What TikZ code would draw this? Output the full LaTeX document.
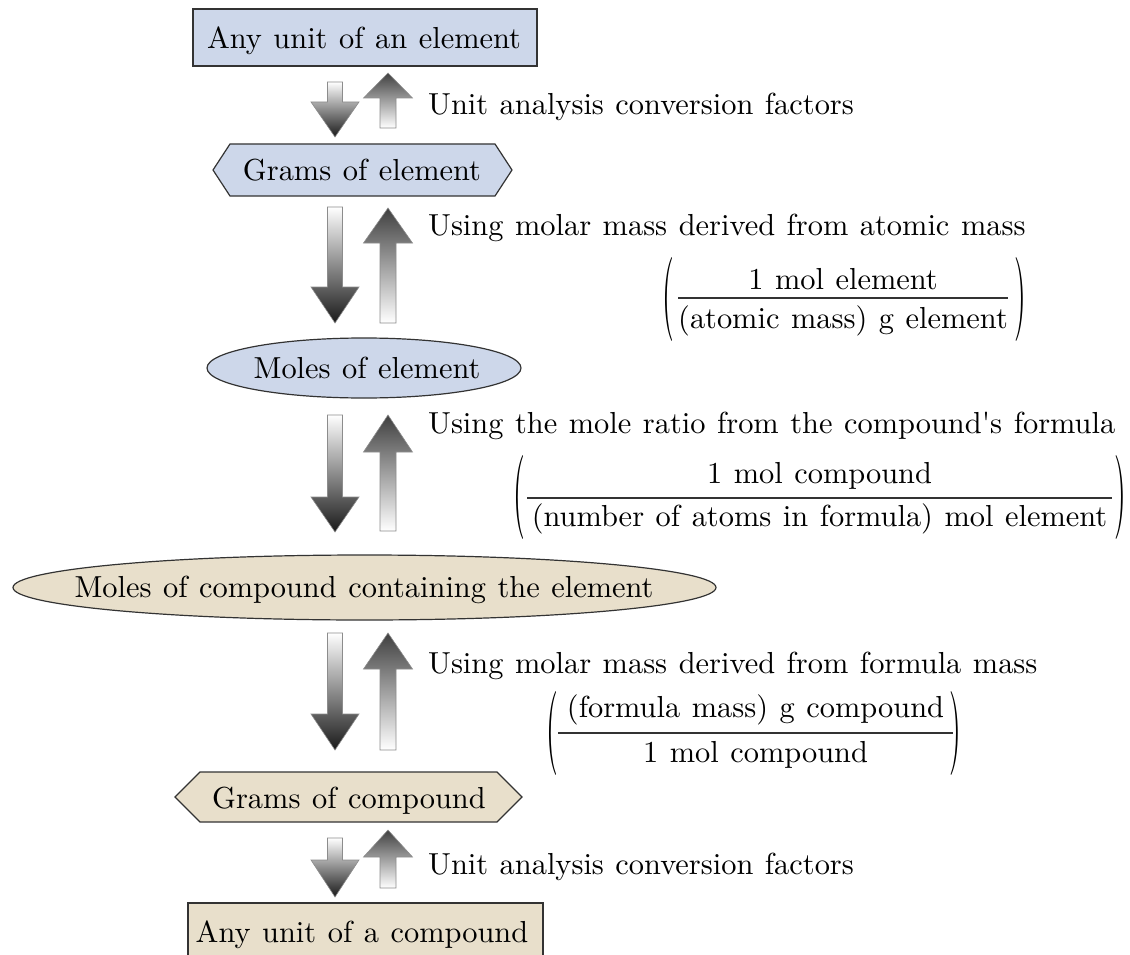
\documentclass[tikz,border=0pt]{standalone}
\usepackage{graphicx}
\usetikzlibrary{shapes.geometric}
\definecolor{boxblue}{HTML}{CDD7EA}
\definecolor{boxtan}{HTML}{E8DFCB}
\definecolor{edge}{HTML}{333333}
\newcommand\T[1]{\scalebox{3.04}{\fontsize{10}{12}\selectfont\spaceskip=0.38em plus 0.1em #1}}
\tikzset{
  shapeline/.style={draw=edge, line width=1.2pt},
  lbl/.style={anchor=base west, inner sep=0pt},
  ctext/.style={anchor=base, inner sep=0pt},
  arrowline/.style={draw=black!45, line width=0.6pt},
  fracrule/.style={draw=black!80, line width=1.1pt},
  parnode/.style={anchor=center, inner sep=0pt},
}
\newcommand\DnBlock[4]{%
  \path[arrowline, top color=white, bottom color=black!90]
    (#1-7.5,#2) -- (#1+7.5,#2) -- (#1+7.5,#3) -- (#1+24,#3) -- (#1,#4)
    -- (#1-24,#3) -- (#1-7.5,#3) -- cycle;}
\newcommand\UpBlock[4]{%
  \path[arrowline, top color=black!75, bottom color=white]
    (#1,#2) -- (#1+24.5,#3) -- (#1+8,#3) -- (#1+8,#4) -- (#1-8,#4)
    -- (#1-8,#3) -- (#1-24.5,#3) -- cycle;}
\newcommand\Paren[3]{\node[parnode] at (#1,#2) {\scalebox{3.02}[8.4]{\fontsize{10}{12}\selectfont#3}};}
\begin{document}
\begin{tikzpicture}[x=1pt,y=-1pt]
\useasboundingbox (0,0) rectangle (1130,955);

% ---- shapes ----
\node[shapeline, fill=boxblue, rectangle, minimum width=344pt, minimum height=57pt, inner sep=0pt] (unitElBox) at (365,37.5) {};
\draw[shapeline, fill=boxblue] (213,170) -- (230,144) -- (495,144) -- (512,170) -- (495,196) -- (230,196) -- cycle;
\node[shapeline, fill=boxblue, ellipse, minimum width=314pt, minimum height=60pt, inner sep=0pt] (molElBox) at (364,368) {};
\node[shapeline, fill=boxtan, ellipse, minimum width=703pt, minimum height=65pt, inner sep=0pt] (molCpBox) at (364.5,587.5) {};
\draw[shapeline, fill=boxtan] (175,797) -- (200,772) -- (497,772) -- (522,797) -- (497,822) -- (200,822) -- cycle;
\node[shapeline, fill=boxtan, rectangle, minimum width=355pt, minimum height=62pt, inner sep=0pt] (unitCpBox) at (365.5,934) {};

% ---- shape texts ----
\node[ctext] (unitEl) at (364,49) {\T{Any unit of an element}};
\node[ctext] (gEl) at (362,180) {\T{Grams of element}};
\node[ctext] (molEl) at (367,378) {\T{Moles of element}};
\node[ctext] (molCp) at (364,597) {\T{Moles of compound containing the element}};
\node[ctext] (gCp) at (349,808) {\T{Grams of compound}};
\node[ctext] (unitCp) at (362,942) {\T{Any unit of a compound}};

% ---- block arrows ----
\DnBlock{335}{82}{102}{137}
\UpBlock{388}{73}{98}{128}
\DnBlock{335}{207}{287}{323}
\UpBlock{388}{208}{243}{323}
\DnBlock{335}{415}{497}{532}
\UpBlock{388}{415}{452}{531}
\DnBlock{335}{633}{714}{750}
\UpBlock{388}{633}{669}{750}
\DnBlock{335}{838}{860}{897}
\UpBlock{388}{830}{857}{888}

% ---- labels ----
\node[lbl] (l1) at (428,115) {\T{Unit analysis conversion factors}};
\node[lbl] (l2) at (428,235) {\T{Using molar mass derived from atomic mass}};
\node[lbl] (l3) at (428,433) {\T{Using the mole ratio from the compound\textquotesingle s formula}};
\node[lbl] (l4) at (428,673) {\T{Using molar mass derived from formula mass}};
\node[lbl] (l5) at (428,874) {\T{Unit analysis conversion factors}};

% ---- fraction 1 ----
\Paren{668}{299.5}{(}
\Paren{1020}{299.5}{)}
\draw[fracrule] (678,298) -- (1008,298);
\node[ctext] (f1n) at (843,289) {\T{1 mol element}};
\node[ctext] (f1d) at (843,328) {\T{(atomic mass) g element}};

% ---- fraction 2 ----
\Paren{519}{497.5}{(}
\Paren{1120}{497.5}{)}
\draw[fracrule] (527,498) -- (1112,498);
\node[ctext] (f2n) at (819.5,483) {\T{1 mol compound}};
\node[ctext] (f2d) at (819.5,526) {\T{(number of atoms in formula) mol element}};

% ---- fraction 3 ----
\Paren{552}{733.5}{(}
\Paren{955}{733.5}{)}
\draw[fracrule] (558,733) -- (953,733);
\node[ctext] (f3n) at (755.5,717) {\T{(formula mass) g compound}};
\node[ctext] (f3d) at (755.5,762) {\T{1 mol compound}};
\end{tikzpicture}
\end{document}
